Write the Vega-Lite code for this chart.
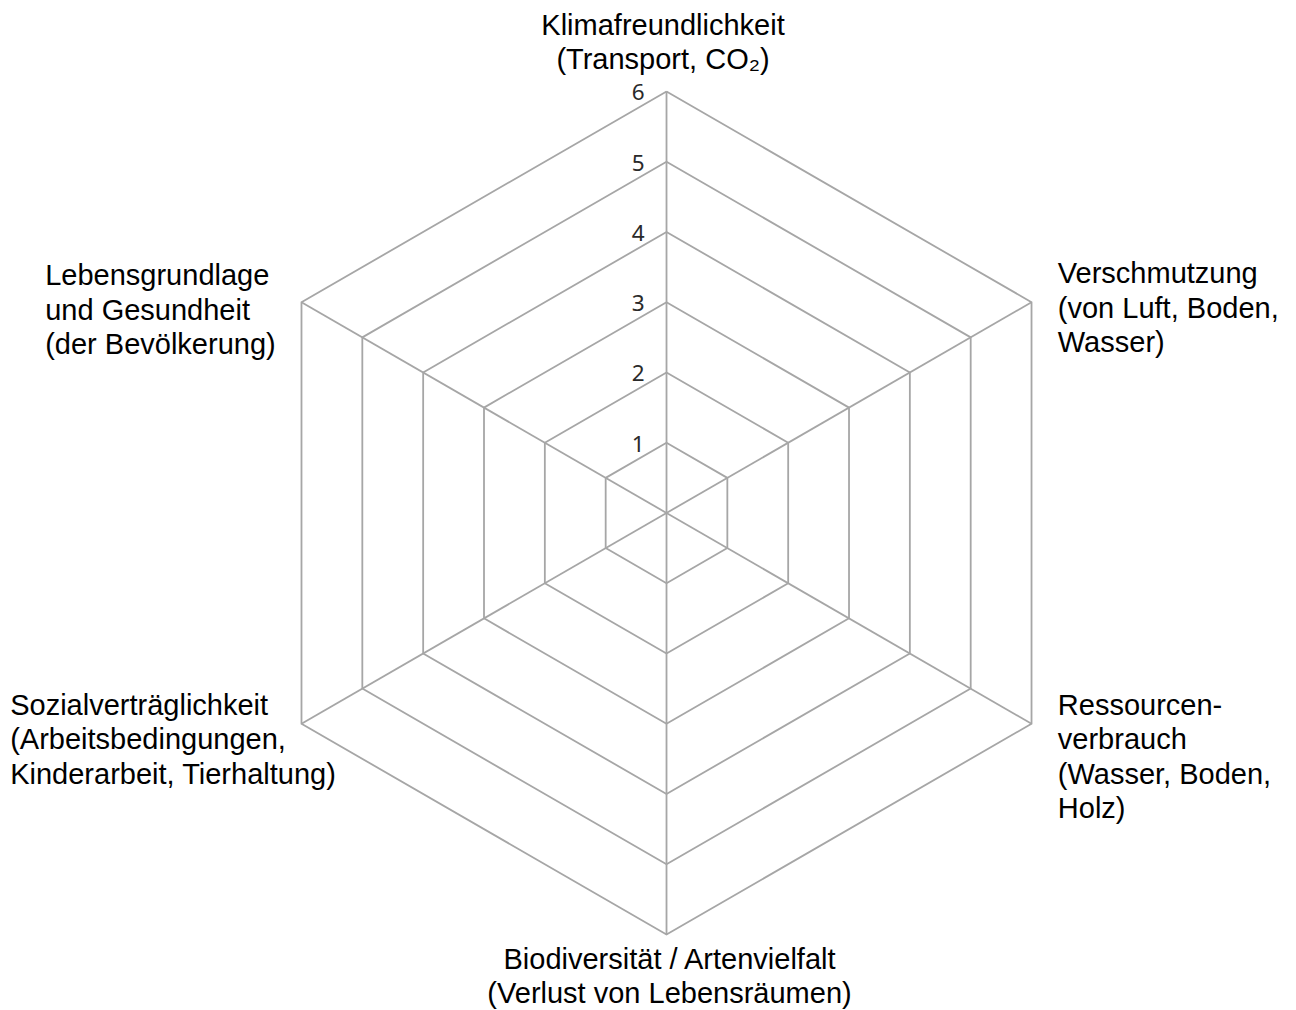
{
  "$schema": "https://vega.github.io/schema/vega-lite/v6.json",
  "width": 1296,
  "height": 1010,
  "autosize": {"type": "fit", "contains": "padding"},
  "padding": 0,
  "background": "white",
  "config": {"view": {"stroke": null}},
  "datasets": {
    "axes": [
      {"i": 0, "label": "Klimafreundlichkeit\n(Transport, CO₂)"},
      {"i": 1, "label": "Verschmutzung\n(von Luft, Boden,\nWasser)"},
      {"i": 2, "label": "Ressourcen-\nverbrauch\n(Wasser, Boden,\nHolz)"},
      {"i": 3, "label": "Biodiversität / Artenvielfalt\n(Verlust von Lebensräumen)"},
      {"i": 4, "label": "Sozialverträglichkeit\n(Arbeitsbedingungen,\nKinderarbeit, Tierhaltung)"},
      {"i": 5, "label": "Lebensgrundlage\nund Gesundheit\n(der Bevölkerung)"}
    ],
    "levels": [
      {"level": 1, "k": [0, 1, 2, 3, 4, 5, 6]},
      {"level": 2, "k": [0, 1, 2, 3, 4, 5, 6]},
      {"level": 3, "k": [0, 1, 2, 3, 4, 5, 6]},
      {"level": 4, "k": [0, 1, 2, 3, 4, 5, 6]},
      {"level": 5, "k": [0, 1, 2, 3, 4, 5, 6]},
      {"level": 6, "k": [0, 1, 2, 3, 4, 5, 6]}
    ]
  },
  "layer": [
    {
      "data": {"name": "levels"},
      "transform": [
        {"flatten": ["k"]},
        {"calculate": "datum.level * sin(datum.k * PI / 3)", "as": "x"},
        {"calculate": "datum.level * cos(datum.k * PI / 3)", "as": "y"}
      ],
      "mark": {"type": "line", "stroke": "#a6a6a6", "strokeWidth": 1.8, "interpolate": "linear"},
      "encoding": {
        "x": {"field": "x", "type": "quantitative", "scale": {"domain": [-9.488, 8.961], "nice": false, "zero": false}, "axis": null},
        "y": {"field": "y", "type": "quantitative", "scale": {"domain": [-7.075, 7.302], "nice": false, "zero": false}, "axis": null},
        "detail": {"field": "level", "type": "nominal"},
        "order": {"field": "k", "type": "quantitative"}
      }
    },
    {
      "data": {"name": "axes"},
      "transform": [
        {"calculate": "6 * sin(datum.i * PI / 3)", "as": "ax"},
        {"calculate": "6 * cos(datum.i * PI / 3)", "as": "ay"}
      ],
      "mark": {"type": "rule", "stroke": "#a6a6a6", "strokeWidth": 1.8},
      "encoding": {
        "x": {"field": "ax", "type": "quantitative", "scale": {"domain": [-9.488, 8.961], "nice": false, "zero": false}, "axis": null},
        "y": {"field": "ay", "type": "quantitative", "scale": {"domain": [-7.075, 7.302], "nice": false, "zero": false}, "axis": null},
        "x2": {"datum": 0},
        "y2": {"datum": 0}
      }
    },
    {
      "data": {"name": "levels"},
      "mark": {"type": "text", "font": "Noto Sans", "fontSize": 22.5, "fill": "#2a2a2a", "align": "right", "baseline": "middle", "dx": -22, "dy": 2},
      "encoding": {
        "x": {"datum": 0, "type": "quantitative", "scale": {"domain": [-9.488, 8.961], "nice": false, "zero": false}, "axis": null},
        "y": {"field": "level", "type": "quantitative", "scale": {"domain": [-7.075, 7.302], "nice": false, "zero": false}, "axis": null},
        "text": {"field": "level", "type": "nominal"}
      }
    },
    {
      "data": {"name": "axes"},
      "transform": [
        {"filter": "datum.i == 0"},
        {"calculate": "6 * sin(datum.i * PI / 3)", "as": "ax"},
        {"calculate": "6 * cos(datum.i * PI / 3)", "as": "ay"}
      ],
      "mark": {"type": "text", "font": "Liberation Sans", "fontSize": 29, "lineHeight": 34.5, "lineBreak": "\n", "fill": "#000000", "align": "center", "baseline": "alphabetic", "dx": -3.5, "dy": -56.5},
      "encoding": {
        "x": {"field": "ax", "type": "quantitative", "scale": {"domain": [-9.488, 8.961], "nice": false, "zero": false}, "axis": null},
        "y": {"field": "ay", "type": "quantitative", "scale": {"domain": [-7.075, 7.302], "nice": false, "zero": false}, "axis": null},
        "text": {"field": "label", "type": "nominal"}
      }
    },
    {
      "data": {"name": "axes"},
      "transform": [
        {"filter": "datum.i == 1"},
        {"calculate": "6 * sin(datum.i * PI / 3)", "as": "ax"},
        {"calculate": "6 * cos(datum.i * PI / 3)", "as": "ay"}
      ],
      "mark": {"type": "text", "font": "Liberation Sans", "fontSize": 29, "lineHeight": 34.5, "lineBreak": "\n", "fill": "#000000", "align": "left", "baseline": "alphabetic", "dx": 26.3, "dy": -19},
      "encoding": {
        "x": {"field": "ax", "type": "quantitative", "scale": {"domain": [-9.488, 8.961], "nice": false, "zero": false}, "axis": null},
        "y": {"field": "ay", "type": "quantitative", "scale": {"domain": [-7.075, 7.302], "nice": false, "zero": false}, "axis": null},
        "text": {"field": "label", "type": "nominal"}
      }
    },
    {
      "data": {"name": "axes"},
      "transform": [
        {"filter": "datum.i == 2"},
        {"calculate": "6 * sin(datum.i * PI / 3)", "as": "ax"},
        {"calculate": "6 * cos(datum.i * PI / 3)", "as": "ay"}
      ],
      "mark": {"type": "text", "font": "Liberation Sans", "fontSize": 29, "lineHeight": 34.5, "lineBreak": "\n", "fill": "#000000", "align": "left", "baseline": "alphabetic", "dx": 26.3, "dy": -9},
      "encoding": {
        "x": {"field": "ax", "type": "quantitative", "scale": {"domain": [-9.488, 8.961], "nice": false, "zero": false}, "axis": null},
        "y": {"field": "ay", "type": "quantitative", "scale": {"domain": [-7.075, 7.302], "nice": false, "zero": false}, "axis": null},
        "text": {"field": "label", "type": "nominal"}
      }
    },
    {
      "data": {"name": "axes"},
      "transform": [
        {"filter": "datum.i == 3"},
        {"calculate": "6 * sin(datum.i * PI / 3)", "as": "ax"},
        {"calculate": "6 * cos(datum.i * PI / 3)", "as": "ay"}
      ],
      "mark": {"type": "text", "font": "Liberation Sans", "fontSize": 29, "lineHeight": 34.5, "lineBreak": "\n", "fill": "#000000", "align": "center", "baseline": "alphabetic", "dx": 3, "dy": 34.5},
      "encoding": {
        "x": {"field": "ax", "type": "quantitative", "scale": {"domain": [-9.488, 8.961], "nice": false, "zero": false}, "axis": null},
        "y": {"field": "ay", "type": "quantitative", "scale": {"domain": [-7.075, 7.302], "nice": false, "zero": false}, "axis": null},
        "text": {"field": "label", "type": "nominal"}
      }
    },
    {
      "data": {"name": "axes"},
      "transform": [
        {"filter": "datum.i == 4"},
        {"calculate": "6 * sin(datum.i * PI / 3)", "as": "ax"},
        {"calculate": "6 * cos(datum.i * PI / 3)", "as": "ay"}
      ],
      "mark": {"type": "text", "font": "Liberation Sans", "fontSize": 29, "lineHeight": 34.5, "lineBreak": "\n", "fill": "#000000", "align": "left", "baseline": "alphabetic", "dx": -291.3, "dy": -9},
      "encoding": {
        "x": {"field": "ax", "type": "quantitative", "scale": {"domain": [-9.488, 8.961], "nice": false, "zero": false}, "axis": null},
        "y": {"field": "ay", "type": "quantitative", "scale": {"domain": [-7.075, 7.302], "nice": false, "zero": false}, "axis": null},
        "text": {"field": "label", "type": "nominal"}
      }
    },
    {
      "data": {"name": "axes"},
      "transform": [
        {"filter": "datum.i == 5"},
        {"calculate": "6 * sin(datum.i * PI / 3)", "as": "ax"},
        {"calculate": "6 * cos(datum.i * PI / 3)", "as": "ay"}
      ],
      "mark": {"type": "text", "font": "Liberation Sans", "fontSize": 29, "lineHeight": 34.5, "lineBreak": "\n", "fill": "#000000", "align": "left", "baseline": "alphabetic", "dx": -256.3, "dy": -17},
      "encoding": {
        "x": {"field": "ax", "type": "quantitative", "scale": {"domain": [-9.488, 8.961], "nice": false, "zero": false}, "axis": null},
        "y": {"field": "ay", "type": "quantitative", "scale": {"domain": [-7.075, 7.302], "nice": false, "zero": false}, "axis": null},
        "text": {"field": "label", "type": "nominal"}
      }
    }
  ]
}
